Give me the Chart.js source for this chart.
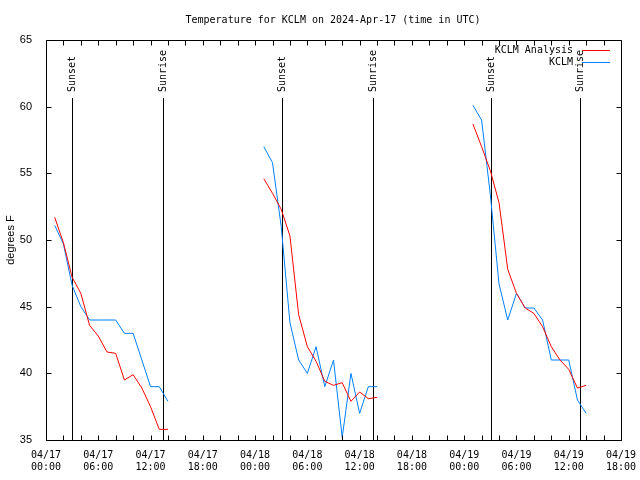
<!DOCTYPE html>
<html>
<head>
<meta charset="utf-8">
<script src="https://cdn.jsdelivr.net/npm/chart.js@4"></script>
<style>
html, body { margin: 0; padding: 0; background: #fff; }
</style>
</head>
<body>
<canvas id="chart" width="640" height="480"></canvas>
<script>
// hours after 04/17 00:00 UTC
const analysisHours = [1, 2, 3, 4, 5, 6, 7, 8, 9, 10, 11, 12, 13, 14,
    25, 26, 27, 28, 29, 30, 31, 32, 33, 34, 35, 36, 37, 38,
    49, 50, 51, 52, 53, 54, 55, 56, 57, 58, 59, 60, 61, 62]
const analysisTemps = [51.7, 49.8, 47.2, 46.0, 43.6, 42.8, 41.6, 41.5, 39.5, 39.9, 38.9, 37.5, 35.8, 35.8,
    54.6, 53.5, 52.3, 50.3, 44.4, 42.0, 40.9, 39.4, 39.1, 39.3, 37.9, 38.6, 38.1, 38.2,
    58.7, 57.0, 55.2, 52.8, 47.8, 46.0, 44.9, 44.5, 43.5, 42.0, 41.0, 40.3, 38.9, 39.1]

const obsHours = [1, 2, 3, 4, 5, 6, 7, 8, 9, 10, 11, 12, 13, 14,
    25, 26, 27, 28, 29, 30, 31, 32, 33, 34, 35, 36, 37, 38,
    49, 50, 51, 52, 53, 54, 55, 56, 57, 58, 59, 60, 61, 62]
const obsTemps = [51.1, 49.7, 46.6, 45.0, 44.0, 44.0, 44.0, 44.0, 43.0, 43.0, 41.0, 39.0, 39.0, 37.9,
    57.0, 55.8, 51.0, 43.8, 41.0, 40.0, 42.0, 39.0, 41.0, 35.2, 40.0, 37.0, 39.0, 39.0,
    60.1, 59.0, 53.4, 46.7, 44.0, 46.0, 44.9, 44.9, 44.0, 41.0, 41.0, 41.0, 38.0, 37.0]

const sunsetHours = [3.0, 27.1, 51.1]
const sunriseHours = [13.45, 37.5, 61.3]

const tickDates = ['04/17', '04/17', '04/17', '04/17', '04/18', '04/18', '04/18', '04/18', '04/19', '04/19', '04/19', '04/19']
const tickTimes = ['00:00', '06:00', '12:00', '18:00', '00:00', '06:00', '12:00', '18:00', '00:00', '06:00', '12:00', '18:00']

const mono = 'DejaVu Sans Mono'

// break the line where hours jump
function toPoints(hours, temps) {
    let pts = []
    for (let i = 0; i < hours.length; i++) {
        if (i > 0 && hours[i] - hours[i - 1] > 1) {
            pts.push({ x: (hours[i] + hours[i - 1]) / 2, y: null })
        }
        pts.push({ x: hours[i], y: temps[i] })
    }
    return pts
}

const decor = {
    id: 'decor',
    beforeDatasetsDraw(chart) {
        const ctx = chart.ctx
        const xs = chart.scales.x
        const area = chart.chartArea
        ctx.save()
        ctx.strokeStyle = '#000'
        ctx.lineWidth = 1
        ctx.fillStyle = '#000'
        ctx.font = '10px ' + mono
        const events = []
        sunsetHours.forEach(h => events.push([h, 'Sunset']))
        sunriseHours.forEach(h => events.push([h, 'Sunrise']))
        events.forEach(([h, label]) => {
            const px = Math.round(xs.getPixelForValue(h)) + 0.5
            ctx.beginPath()
            ctx.moveTo(px, 98)
            ctx.lineTo(px, area.bottom)
            ctx.stroke()
            ctx.save()
            ctx.translate(px, 92)
            ctx.rotate(-Math.PI / 2)
            ctx.textAlign = 'left'
            ctx.textBaseline = 'middle'
            ctx.fillText(label, 0, 0)
            ctx.restore()
        })
        ctx.restore()
    },
    afterDraw(chart) {
        const ctx = chart.ctx
        const xs = chart.scales.x
        const ys = chart.scales.y
        const a = chart.chartArea
        ctx.save()
        ctx.strokeStyle = '#000'
        ctx.lineWidth = 1
        ctx.beginPath()
        const L = Math.round(a.left) + 0.5, R = Math.round(a.right) + 0.5
        const T = Math.round(a.top) + 0.5, B = Math.round(a.bottom) + 0.5
        ctx.rect(L, T, R - L, B - T)
        // inward ticks
        for (let h = 0; h <= 66; h += 2) {
            const px = Math.round(xs.getPixelForValue(h)) + 0.5
            ctx.moveTo(px, B); ctx.lineTo(px, B - 5)
            ctx.moveTo(px, T); ctx.lineTo(px, T + 5)
        }
        for (let v = 35; v <= 65; v += 5) {
            const py = Math.round(ys.getPixelForValue(v)) + 0.5
            ctx.moveTo(L, py); ctx.lineTo(L + 5, py)
            ctx.moveTo(R, py); ctx.lineTo(R - 5, py)
        }
        ctx.stroke()

        // title
        ctx.fillStyle = '#000'
        ctx.font = '10px ' + mono
        ctx.textAlign = 'center'
        ctx.textBaseline = 'middle'
        ctx.fillText('Temperature for KCLM on 2024-Apr-17 (time in UTC)', 333, 20)

        // legend
        ctx.textAlign = 'right'
        const rows = [[chart.data.datasets[0], 50], [chart.data.datasets[1], 62]]
        rows.forEach(([ds, y]) => {
            ctx.fillStyle = '#000'
            ctx.fillText(ds.label, 573, y)
            ctx.strokeStyle = ds.borderColor
            ctx.beginPath()
            ctx.moveTo(582, y + 0.5)
            ctx.lineTo(610, y + 0.5)
            ctx.stroke()
        })
        ctx.restore()
    }
}

new Chart(document.getElementById('chart'), {
    type: 'line',
    data: {
        datasets: [{
            label: 'KCLM Analysis',
            data: toPoints(analysisHours, analysisTemps),
            borderColor: 'rgb(255, 0, 0)',
            borderWidth: 1,
            pointRadius: 0,
            spanGaps: false,
            tension: 0
        }, {
            label: 'KCLM',
            data: toPoints(obsHours, obsTemps),
            borderColor: 'rgb(0, 128, 255)',
            borderWidth: 1,
            pointRadius: 0,
            spanGaps: false,
            tension: 0
        }]
    },
    options: {
        responsive: false,
        animation: false,
        devicePixelRatio: 1,
        layout: { padding: { left: 0, right: 19, top: 40, bottom: 0 } },
        plugins: { legend: { display: false }, title: { display: false }, tooltip: { enabled: false } },
        scales: {
            x: {
                type: 'linear',
                min: 0,
                max: 66,
                grid: { display: false },
                border: { display: false },
                ticks: {
                    stepSize: 6,
                    autoSkip: false,
                    maxRotation: 0,
                    padding: 1,
                    color: '#000',
                    font: { family: mono, size: 10, lineHeight: 1.25 },
                    callback: v => {
                        const i = Math.round(v / 6)
                        return [tickDates[i], tickTimes[i]]
                    }
                },
                afterFit: s => { s.height = 40; s.paddingLeft = 0; s.paddingRight = 0 }
            },
            y: {
                min: 35,
                max: 65,
                grid: { display: false },
                border: { display: false },
                ticks: {
                    stepSize: 5,
                    padding: 6,
                    color: '#000',
                    font: { family: 'Liberation Sans', size: 11 }
                },
                title: {
                    display: true,
                    text: 'degrees F',
                    color: '#000',
                    font: { family: 'Liberation Sans', size: 11 },
                    padding: { top: 4, bottom: 0 }
                },
                afterFit: s => { s.width = 46; s.paddingTop = 0; s.paddingBottom = 0 }
            }
        }
    },
    plugins: [decor]
})
</script>
</body>
</html>
